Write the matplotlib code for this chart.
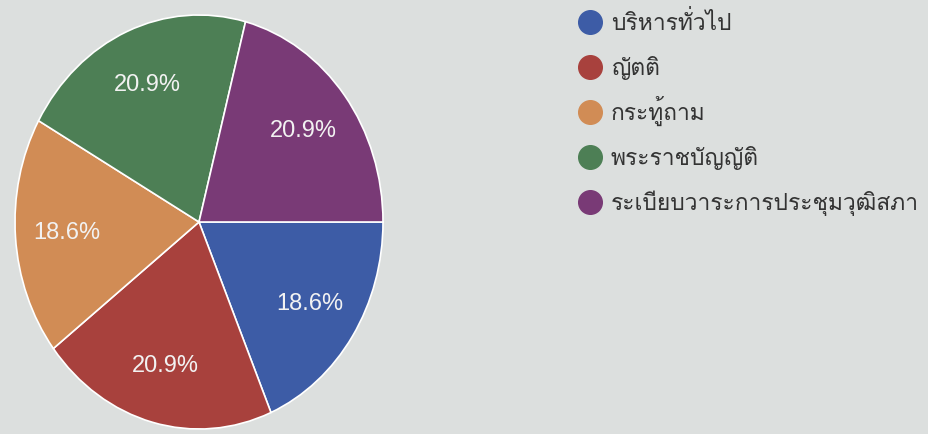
"""Pie chart of motion types (Thai labels) with a round-marker legend."""
import matplotlib
matplotlib.use("Agg")
import matplotlib.pyplot as plt

categories = ["บริหารทั่วไป", "ญัตติ", "กระทู้ถาม", "พระราชบัญญัติ", "ระเบียบวาระการประชุมวุฒิสภา"]
counts = [8, 9, 8, 9, 9]
colors = ["#3d5ca6", "#a8413d", "#d18c55", "#4d7f55", "#793a76"]

BG = "#dcdfde"
plt.rcParams["font.family"] = ["Loma", "Noto Sans Thai Looped", "Noto Sans Thai",
                               "Garuda", "Noto Sans", "DejaVu Sans"]

fig = plt.figure(figsize=(9.29, 4.34), dpi=100, facecolor=BG)

# photo is slightly stretched vertically, so the pie is drawn as an ellipse
ax = fig.add_axes([15 / 929, 5 / 434, 368 / 929, 414 / 434])
ax.set_facecolor(BG)
wedges, _, autotexts = ax.pie(
    counts, colors=colors, startangle=0, counterclock=False,
    autopct="%1.1f%%", pctdistance=0.72,
    wedgeprops=dict(edgecolor="white", linewidth=1.2),
    textprops=dict(color="#f2f2f2", fontsize=17, family="Liberation Sans"),
)
ax.set_aspect("auto")
ax.set_xlim(-1, 1)
ax.set_ylim(-1, 1)
ax.axis("off")

# legend drawn on a pixel-scaled overlay so the rows are evenly spaced
lax = fig.add_axes([0, 0, 1, 1], facecolor="none")
lax.set_xlim(0, 929)
lax.set_ylim(434, 0)
lax.axis("off")
for i, (label, c) in enumerate(zip(categories, colors)):
    y = 22 + 45 * i
    lax.scatter(590, y, s=17 ** 2, color=c, zorder=3)
    lax.text(611, y + 8, label, fontsize=16.4, color="#333333", va="baseline")

fig.savefig("out.png", dpi=100, facecolor=BG)
